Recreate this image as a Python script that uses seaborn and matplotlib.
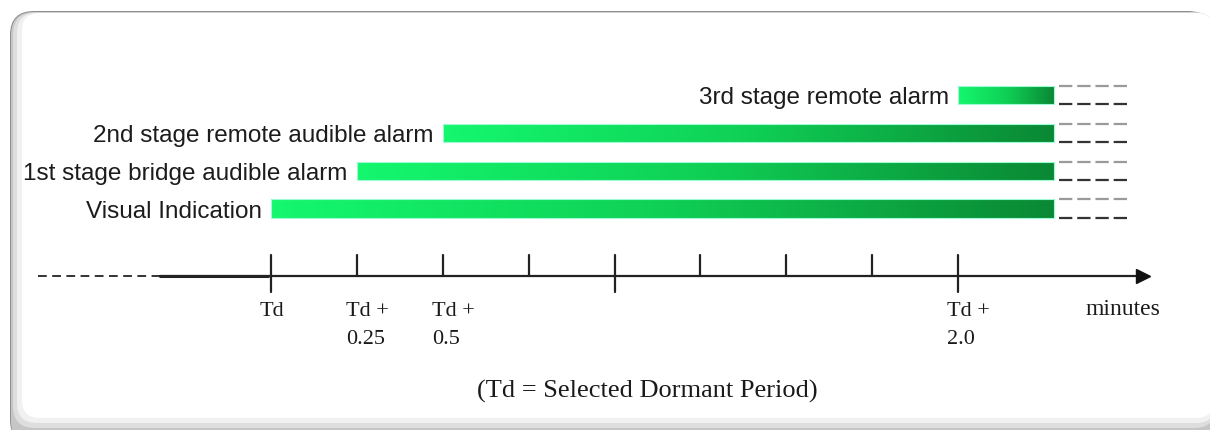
import matplotlib.pyplot as plt
import numpy as np
import pandas as pd
import seaborn as sns
from matplotlib.colors import LinearSegmentedColormap
from matplotlib.patches import FancyBboxPatch
from matplotlib.transforms import IdentityTransform

# Alarm stages (top to bottom) and when they are active, in minutes after Td
stages = ["3rd stage remote alarm", "2nd stage remote audible alarm",
          "1st stage bridge audible alarm", "Visual Indication"]
starts = [2.0, 0.5, 0.25, 0.0]
ends = [2.28, 2.28, 2.28, 2.28]
continues_to = 2.5

# Timeline ticks
tick_values = [0, 0.25, 0.5, 0.75, 1.0, 1.25, 1.5, 1.75, 2.0]
major_ticks = [0, 1.0, 2.0]
tick_label_pos = [0, 0.25, 0.5, 2.0]
tick_label_text = ["Td", "Td +\n0.25", "Td +\n0.5", "Td +\n2.0"]

df = pd.DataFrame({"stage": stages, "start": starts, "end": ends})

W, H = 1210, 431
X0, XS = 271, 343.5     # pixel of Td, pixels per minute
Y0, YS = 96, 37.83      # pixel of first bar centre, pixels per bar slot


def px(x):
    return (x - X0) / XS


def py(y):
    return (y - Y0) / YS


sns.set_theme(style="white")
plt.rcParams["font.family"] = ["Liberation Sans", "DejaVu Sans"]
serif = ["Liberation Serif", "DejaVu Serif"]

fig = plt.figure(figsize=(W / 100, H / 100), dpi=100)
ax = fig.add_axes([0, 0, 1, 1])

sns.barplot(data=df, x="end", y="stage", order=stages, orient="h",
            width=0.48, color="#10e060", ax=ax)
bars = list(ax.patches)

# gradient fill, bright green -> dark green on every bar
green = LinearSegmentedColormap.from_list("alarm", ["#14f76e", "#0fd055", "#0a8834"])
grad = np.linspace(0, 1, 256).reshape(1, -1)
for bar, s, e, name in zip(bars, df["start"], df["end"], df["stage"]):
    bar.set_x(s)
    bar.set_width(e - s)
    bar.set_facecolor("none")
    bar.set_edgecolor("#9dfbd6")
    bar.set_linewidth(0.8)
    bar.set_zorder(3)
    y0, h = bar.get_y(), bar.get_height()
    im = ax.imshow(grad, cmap=green, aspect="auto", extent=[s, e, y0 + h, y0],
                   interpolation="bilinear", zorder=2)
    im.set_clip_path(bar)
    # dashed continuation on top / bottom edges
    ax.plot([e + 0.015, continues_to], [y0, y0], ls=(0, (6, 2.2)),
            color="#9a9a9a", lw=1.6, zorder=3)
    ax.plot([e + 0.015, continues_to], [y0 + h, y0 + h], ls=(0, (6, 2.2)),
            color="#333333", lw=1.6, zorder=3)
    ax.text(s - 0.027, y0 + h / 2 + 0.06, name, ha="right", va="center",
            fontsize=17.5, color="#1c1c1c", zorder=4)

# time axis
ay = py(277)
ax.plot([px(38), px(160)], [ay, ay], ls=(0, (4.5, 2.8)), color="#333333", lw=1.4)
ax.plot([px(160), px(1142)], [ay, ay], color="#222222", lw=1.6)
ax.plot([px(160), px(268)], [ay, ay], color="#222222", lw=2.2)
ax.plot(px(1143), ay, marker=">", ms=10, color="#111111")
for t in tick_values:
    bottom = py(293) if t in major_ticks else ay
    ax.plot([t, t], [py(256), bottom], color="#222222", lw=1.6)
for t, lab in zip(tick_label_pos, tick_label_text):
    ax.text(t - 11 / XS, py(302), lab, ha="left", va="top", family=serif,
            fontsize=16, linespacing=1.65, color="#1a1a1a")
ax.text(px(1085), py(299), "minutes", ha="left", va="top", family=serif,
        fontsize=17, color="#1a1a1a")
ax.text(px(647), py(391), "(Td = Selected Dormant Period)", ha="center",
        va="center", family=serif, fontsize=19, color="#1a1a1a")

ax.set_xlim(px(0), px(W))
ax.set_ylim(py(H), py(0))
ax.axis("off")


# rounded picture frame with a soft shadow
def frame(x0, y0, x1, y1, color, r, z):
    ax.add_patch(FancyBboxPatch((x0, H - y1), x1 - x0, y1 - y0,
                                boxstyle=f"round,pad=0,rounding_size={r}",
                                transform=IdentityTransform(), fc=color,
                                ec="none", zorder=z))


frame(10, 12, 1212, 445, "#8f8f8f", 24, -10)
frame(11, 13, 1216, 445, "#c6c6c6", 23, -9)
frame(13, 13.5, 1216, 429, "#dedede", 22, -8)
frame(17, 14, 1216, 424, "#f1f1f1", 20, -7)
frame(22, 14, 1214, 419, "white", 18, -6)

plt.savefig("out.png", dpi=100)
